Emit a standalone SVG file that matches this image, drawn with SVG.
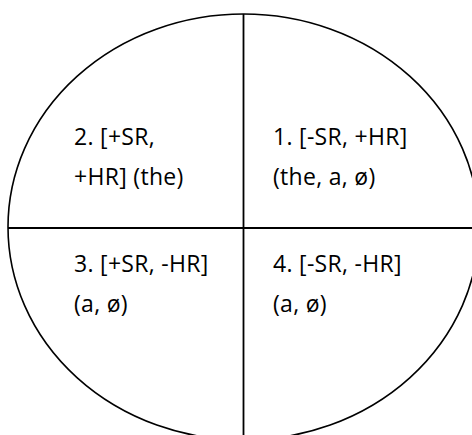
<svg xmlns="http://www.w3.org/2000/svg" width="472" height="435" viewBox="0 0 472 435">
  <style>
    .ln { stroke: #000; stroke-width: 1.8; fill: none; }
    .el { stroke: #000; stroke-width: 1.6; fill: #fff; }
    .t { font-family: "Open Sans", "Liberation Sans", sans-serif; font-size: 23px; letter-spacing: 0.3px; fill: #000; }
  </style>
  <rect width="472" height="435" fill="#fff"/>
  <g id="ellipse">
    <ellipse class="el" cx="243.5" cy="227" rx="235.5" ry="213"/>
  </g>
  <g id="connectors">
    <line class="ln" x1="243.5" y1="14" x2="243.5" y2="435"/>
    <line class="ln" x1="8" y1="228" x2="472" y2="228"/>
  </g>
  <g id="q2">
    <text class="t" x="74" y="145">2. [+SR,</text>
    <text class="t" x="74" y="185">+HR] (the)</text>
  </g>
  <g id="q1">
    <text class="t" x="273" y="145">1. [-SR, +HR]</text>
    <text class="t" x="273" y="185">(the, a, ø)</text>
  </g>
  <g id="q3">
    <text class="t" x="74" y="272">3. [+SR, -HR]</text>
    <text class="t" x="74" y="312">(a, ø)</text>
  </g>
  <g id="q4">
    <text class="t" x="273" y="272">4. [-SR, -HR]</text>
    <text class="t" x="273" y="312">(a, ø)</text>
  </g>
</svg>
